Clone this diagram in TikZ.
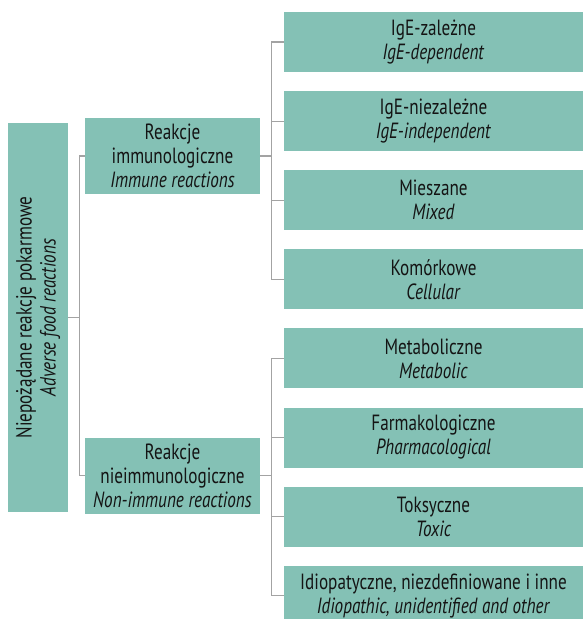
\documentclass[tikz,border=0pt]{standalone}
\usepackage{fontspec}
\setmainfont{PT Sans}[FakeStretch=0.78]
\usetikzlibrary{positioning}
\definecolor{boxteal}{HTML}{84C1B5}
\definecolor{linegray}{HTML}{A3A3A3}
\definecolor{textdark}{HTML}{141414}
\tikzset{
  box/.style={rectangle, fill=boxteal, align=center, text=textdark, inner sep=0pt, font=\fontsize{22}{24}\selectfont},
  leaf/.style={box, minimum width=299pt, minimum height=60pt},
  group/.style={box, minimum width=175pt, minimum height=76pt},
  link/.style={draw=linegray, line width=1.2pt},
}

\begin{document}
\begin{tikzpicture}[x=1pt, y=-1pt, node distance=18.7pt]
    \useasboundingbox (0,0) rectangle (583,619);

    % Root
    \node[box, rotate=90, minimum width=389pt, minimum height=60pt] (root) at (38,317.5) {Niepożądane reakcje pokarmowe\\\textit{Adverse food reactions}};

    % Groups
    \node[group] (imm) at (172.5,156) {Reakcje\\immunologiczne\\\textit{Immune reactions}};
    \node[group] (nonimm) at (172.5,475.5) {Reakcje\\nieimmunologiczne\\\textit{Non-immune reactions}};

    % Immune types
    \node[leaf] (ige) at (433.5,42) {IgE-zależne\\\textit{IgE-dependent}};
    \node[leaf, below=of ige] (nonige) {IgE-niezależne\\\textit{IgE-independent}};
    \node[leaf, below=of nonige] (mixed) {Mieszane\\\textit{Mixed}};
    \node[leaf, below=of mixed] (cell) {Komórkowe\\\textit{Cellular}};

    % Non-immune types
    \node[leaf, below=of cell] (metab) {Metaboliczne\\\textit{Metabolic}};
    \node[leaf, below=of metab] (pharm) {Farmakologiczne\\\textit{Pharmacological}};
    \node[leaf, below=of pharm] (toxic) {Toksyczne\\\textit{Toxic}};
    \node[leaf, below=of toxic] (idio) {Idiopatyczne, niezdefiniowane i inne\\\textit{Idiopathic, unidentified and other}};

    % Forks
    \coordinate[right=11pt of root.south] (rootfork);
    \coordinate[right=11pt of imm.east] (immfork);
    \coordinate[right=11pt of nonimm.east] (nonimmfork);

    % Connectors
    \draw[link] (root.south) -- (rootfork);
    \draw[link] (rootfork) |- (imm.west);
    \draw[link] (rootfork) |- (nonimm.west);
    \draw[link] (imm.east) -- (immfork);
    \draw[link] (immfork) |- (ige.west);
    \draw[link] (immfork) |- (nonige.west);
    \draw[link] (immfork) |- (mixed.west);
    \draw[link] (immfork) |- (cell.west);
    \draw[link] (nonimm.east) -- (nonimmfork);
    \draw[link] (nonimmfork) |- (metab.west);
    \draw[link] (nonimmfork) |- (pharm.west);
    \draw[link] (nonimmfork) |- (toxic.west);
    \draw[link] (nonimmfork) |- (idio.west);
\end{tikzpicture}
\end{document}
